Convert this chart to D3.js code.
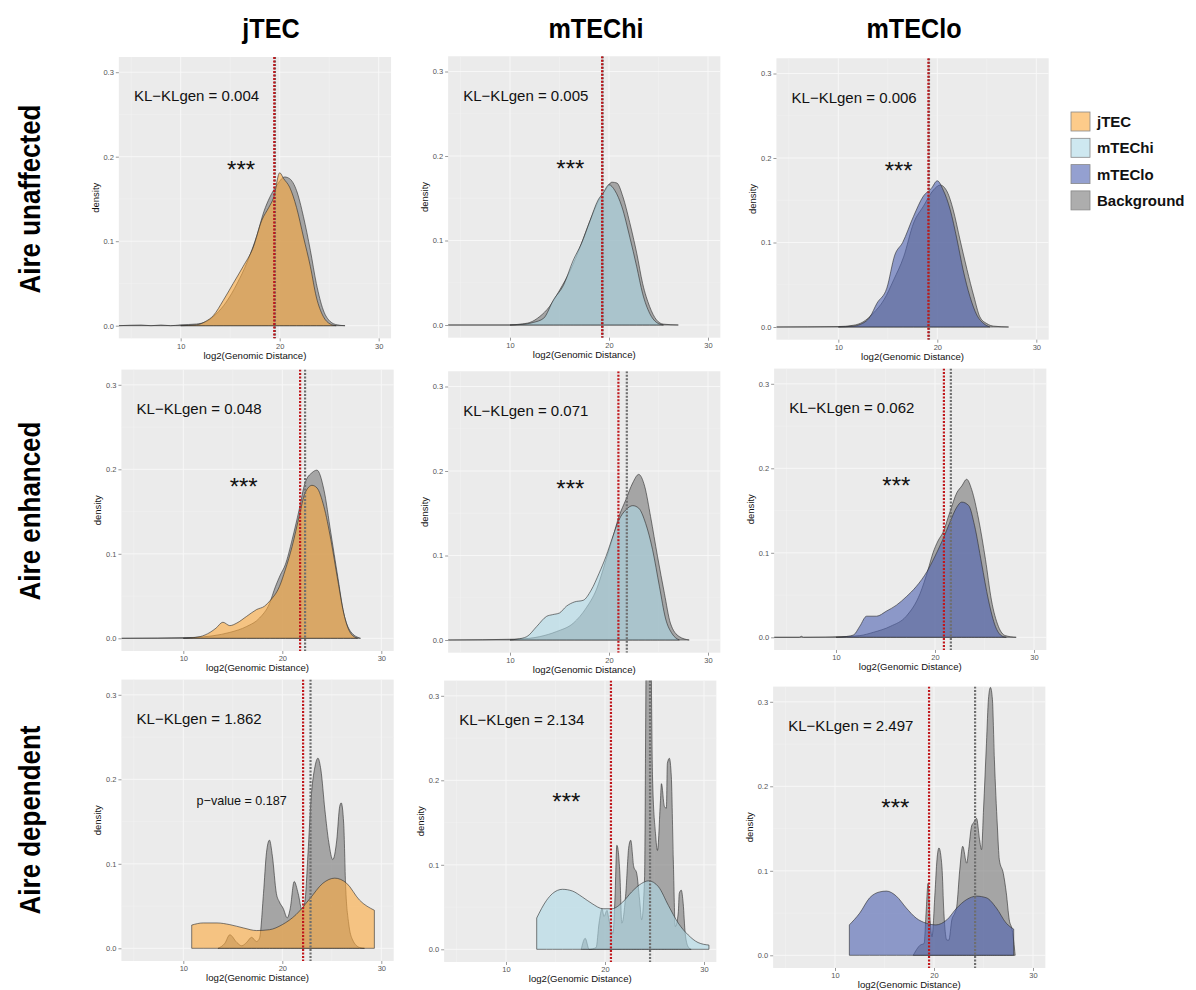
<!DOCTYPE html>
<html>
<head>
<meta charset="utf-8">
<script src="https://cdn.jsdelivr.net/npm/d3@7"></script>
<style>
  body { margin: 0; background: #fff; }
  svg { display: block; font-family: "Liberation Sans", Arial, Helvetica, sans-serif; }
</style>
</head>
<body>
<svg id="chart" width="1196" height="990"></svg>
<script>
// ---- labels and ticks ----
const cellTypes = ["jTEC", "mTEChi", "mTEClo"];
const geneClasses = ["Aire unaffected", "Aire enhanced", "Aire dependent"];
const legendLabels = ["jTEC", "mTEChi", "mTEClo", "Background"];
const xTickValues = [10, 20, 30];
const yTickValues = [0, 0.1, 0.2, 0.3];
const yTickLabels = ["0.0", "0.1", "0.2", "0.3"];
const xAxisTitle = "log2(Genomic Distance)";
const yAxisTitle = "density";

// KL divergence difference per [gene class][cell type]
const klValues = [
  ["0.004", "0.005", "0.006"],
  ["0.048", "0.071", "0.062"],
  ["1.862", "2.134", "2.497"]
];
// significance annotation per panel
const significance = [
  ["***", "***", "***"],
  ["***", "***", "***"],
  ["p\u2212value = 0.187", "***", "***"]
];
// medians (log2 distance): cell-type set and background set
const groupMedians = [
  [19.45, 19.3, 19.1],
  [21.8, 20.95, 20.9],
  [22.1, 20.6, 19.5]
];
const backgroundMedians = [
  [19.52, 19.36, 19.16],
  [22.3, 21.8, 21.6],
  [22.85, 24.55, 24.15]
];

// ---- density estimates, [log2 distance, density] ----
const unaffectedJtec = [[10,0],[11.6,0.001],[12.5,0.005],[13.3,0.012],[14.3,0.03],[15.3,0.05],[16.3,0.07],[17.3,0.092],[18.2,0.125],[18.9,0.14],[19.4,0.152],[20.0,0.181],[20.4,0.174],[21.0,0.164],[21.7,0.14],[22.4,0.105],[23.1,0.07],[23.7,0.034],[24.4,0.011],[25.1,0.002],[25.7,0]];
const unaffectedBgJtec = [[3.75,0],[6,0.0008],[7,0],[8,0.0008],[9,0],[10,0.001],[11.6,0.002],[12.6,0.005],[13.6,0.014],[14.6,0.028],[15.7,0.05],[16.7,0.075],[17.7,0.107],[18.4,0.135],[19.0,0.152],[19.7,0.166],[20.5,0.176],[21.0,0.174],[21.7,0.16],[22.4,0.129],[23.1,0.089],[23.7,0.05],[24.4,0.0185],[25.1,0.005],[25.8,0.001],[26.6,0]];

const unaffectedMtechi = [[10,0],[11.5,0.001],[12.35,0.003],[13.4,0.008],[14.4,0.03],[15.4,0.047],[16.4,0.077],[17.2,0.096],[18.1,0.124],[18.9,0.148],[19.4,0.156],[20.0,0.166],[20.6,0.159],[21.3,0.14],[22.1,0.104],[22.8,0.069],[23.4,0.037],[24.1,0.014],[24.8,0.003],[25.5,0]];
const unaffectedBgMtechi = [[3.75,0],[10,0],[11.0,0.001],[12.0,0.003],[13.0,0.01],[14.0,0.022],[15.0,0.041],[16.1,0.065],[17.1,0.093],[18.1,0.124],[18.9,0.146],[19.6,0.159],[20.3,0.169],[20.8,0.168],[21.4,0.152],[22.1,0.121],[22.8,0.085],[23.4,0.049],[24.1,0.022],[24.8,0.006],[25.5,0.001],[27.0,0]];

const unaffectedMteclo = [[10,0],[11.5,0.001],[12.2,0.003],[13.2,0.012],[13.9,0.028],[14.9,0.046],[15.7,0.085],[16.5,0.1],[17.6,0.131],[18.6,0.155],[19.4,0.164],[20.0,0.173],[20.6,0.162],[21.3,0.139],[22.0,0.103],[22.6,0.068],[23.3,0.036],[24.0,0.014],[24.7,0.004],[25.3,0]];
const unaffectedBgMteclo = [[3.75,0],[10,0.0005],[11.5,0.002],[12.5,0.006],[13.5,0.016],[14.6,0.032],[15.6,0.056],[16.6,0.083],[17.6,0.123],[18.6,0.143],[19.6,0.162],[20.3,0.168],[21.0,0.16],[21.6,0.139],[22.3,0.103],[23.0,0.068],[23.7,0.036],[24.3,0.012],[25.0,0.004],[25.7,0.001],[27.2,0]];

const enhancedJtec = [[10,0],[10.7,0.0005],[11.7,0.002],[12.7,0.007],[13.3,0.012],[14.0,0.019],[14.7,0.015],[15.4,0.018],[16.4,0.026],[17.4,0.034],[18.2,0.038],[18.8,0.045],[19.7,0.061],[20.3,0.081],[21.0,0.109],[21.7,0.144],[22.3,0.172],[23.0,0.181],[23.5,0.178],[24.2,0.156],[24.9,0.117],[25.6,0.069],[26.2,0.03],[26.9,0.006],[27.6,0]];
const enhancedBgJtec = [[3.75,0],[11.0,0.001],[13.0,0.003],[14.7,0.007],[16.4,0.014],[17.7,0.024],[18.7,0.041],[19.3,0.061],[19.8,0.075],[20.3,0.087],[21.0,0.117],[21.7,0.152],[22.3,0.184],[23.0,0.196],[23.5,0.199],[24.2,0.176],[24.9,0.125],[25.6,0.073],[26.2,0.03],[26.9,0.008],[27.9,0]];

const enhancedMtechi = [[10,0],[10.7,0.001],[11.7,0.004],[12.7,0.016],[13.7,0.028],[14.3,0.03],[15.0,0.032],[15.7,0.04],[16.5,0.045],[17.4,0.047],[18.2,0.059],[19.0,0.079],[19.7,0.099],[20.4,0.123],[21.0,0.142],[21.7,0.154],[22.4,0.159],[23.0,0.156],[23.7,0.138],[24.4,0.107],[25.1,0.063],[25.7,0.026],[26.4,0.007],[27.1,0]];
const enhancedBgMtechi = [[3.75,0],[10.7,0.001],[13.0,0.004],[14.7,0.01],[16.4,0.02],[17.7,0.038],[18.7,0.059],[19.7,0.095],[20.4,0.122],[21.0,0.146],[21.7,0.166],[22.4,0.186],[23.0,0.196],[23.6,0.182],[24.2,0.146],[24.9,0.099],[25.6,0.055],[26.2,0.02],[27.1,0.004],[28.1,0]];

const enhancedMteclo = [[10,0],[11.1,0.001],[11.8,0.003],[12.4,0.013],[13.1,0.025],[14.1,0.025],[15.1,0.031],[16.1,0.038],[17.1,0.048],[18.1,0.06],[19.2,0.078],[20.0,0.096],[20.8,0.116],[21.5,0.136],[22.2,0.154],[22.7,0.16],[23.4,0.156],[24.0,0.132],[24.7,0.088],[25.4,0.044],[26.1,0.013],[26.7,0.002],[27.2,0]];
const enhancedBgMteclo = [[3.75,0],[6.3,0],[6.5,0.0012],[6.7,0],[11.1,0.001],[12.4,0.002],[13.8,0.006],[15.5,0.013],[17.1,0.025],[18.5,0.052],[19.3,0.08],[19.8,0.1],[20.3,0.114],[20.8,0.124],[21.5,0.148],[22.2,0.171],[22.7,0.179],[23.2,0.187],[23.7,0.175],[24.4,0.14],[25.1,0.092],[25.7,0.044],[26.4,0.013],[27.1,0.002],[28.2,0]];

const dependentJtec = [[10.85,0.0275],[12.0,0.03],[13.4,0.03],[14.7,0.028],[16.1,0.024],[17.4,0.021],[18.7,0.022],[20.0,0.028],[21.4,0.04],[22.8,0.059],[24.1,0.077],[25.3,0.083],[26.5,0.077],[27.8,0.057],[29.3,0.045]];
const dependentBgJtec = [[13.5,0],[14.2,0.006],[14.7,0.016],[15.4,0.007],[15.9,0.003],[16.4,0.007],[16.9,0.013],[17.4,0.008],[17.7,0.012],[18.1,0.065],[18.4,0.113],[18.7,0.128],[19.0,0.109],[19.4,0.065],[19.7,0.055],[20.1,0.047],[20.5,0.036],[20.8,0.047],[21.2,0.079],[21.6,0.065],[22.0,0.045],[22.3,0.057],[22.6,0.113],[22.9,0.176],[23.3,0.215],[23.6,0.225],[23.9,0.211],[24.3,0.164],[24.7,0.125],[25.1,0.105],[25.5,0.128],[25.8,0.168],[25.95,0.172],[26.2,0.148],[26.4,0.073],[26.7,0.03],[27.1,0.01],[27.8,0.001],[28.3,0]];

const dependentMtechi = [[13.1,0.037],[14.1,0.058],[14.7,0.066],[15.7,0.071],[16.7,0.069],[17.7,0.062],[18.7,0.054],[19.8,0.048],[20.7,0.048],[21.8,0.056],[22.7,0.068],[23.7,0.078],[24.4,0.081],[25.4,0.074],[26.4,0.052],[27.4,0.031],[28.4,0.017],[29.4,0.008],[30.5,0.005]];
const dependentBgMtechi = [[17.6,0],[18.0,0.013],[18.4,0],[19.1,0.002],[19.4,0.031],[19.7,0.048],[19.9,0.039],[20.2,0.046],[20.4,0.035],[20.8,0.019],[21.0,0.058],[21.2,0.123],[21.5,0.09],[21.7,0.031],[22.1,0.066],[22.4,0.121],[22.6,0.129],[22.9,0.098],[23.2,0.09],[23.5,0.058],[23.7,0.035],[24.0,0.086],[24.1,0.25],[24.2,0.45],[24.4,0.6],[24.6,0.45],[24.7,0.3],[24.8,0.204],[25.1,0.137],[25.3,0.117],[25.6,0.176],[25.7,0.196],[26.0,0.169],[26.2,0.167],[26.3,0.22],[26.5,0.226],[26.7,0.204],[26.9,0.106],[27.1,0.027],[27.4,0.043],[27.5,0.066],[27.7,0.07],[27.9,0.054],[28.1,0.019],[28.4,0.003],[28.7,0]];

const dependentMteclo = [[11.45,0.036],[12.5,0.05],[13.5,0.068],[14.5,0.075],[15.2,0.076],[16.2,0.07],[17.2,0.056],[18.2,0.044],[19.2,0.038],[20.2,0.036],[21.3,0.042],[22.3,0.056],[23.3,0.066],[24.3,0.07],[25.3,0.068],[26.3,0.056],[27.3,0.038],[28.05,0.031]];
const dependentBgMteclo = [[17.9,0],[18.6,0.012],[19.0,0.014],[19.2,0.05],[19.4,0.085],[19.6,0.042],[19.8,0.022],[20.1,0.074],[20.3,0.113],[20.5,0.127],[20.8,0.105],[21.0,0.05],[21.3,0.018],[21.5,0.018],[21.8,0.042],[22.1,0.05],[22.3,0.058],[22.6,0.101],[22.9,0.129],[23.3,0.109],[23.5,0.125],[23.8,0.153],[24.0,0.157],[24.3,0.162],[24.6,0.137],[24.8,0.125],[25.0,0.172],[25.3,0.251],[25.5,0.303],[25.7,0.317],[25.9,0.303],[26.1,0.232],[26.4,0.153],[26.6,0.113],[27.0,0.097],[27.3,0.074],[27.6,0.042],[27.9,0.03],[28.2,0]];

const groupCurves = [
  [unaffectedJtec, unaffectedMtechi, unaffectedMteclo],
  [enhancedJtec, enhancedMtechi, enhancedMteclo],
  [dependentJtec, dependentMtechi, dependentMteclo]
];
const backgroundCurves = [
  [unaffectedBgJtec, unaffectedBgMtechi, unaffectedBgMteclo],
  [enhancedBgJtec, enhancedBgMtechi, enhancedBgMteclo],
  [dependentBgJtec, dependentBgMtechi, dependentBgMteclo]
];

// ---- styling ----
const fillColors = ["#fca93c", "#add8e6", "#4d61b1", "#777777"];
const fillAlpha = 0.6;
const panelBg = "#ebebeb";

// ---- layout: pixel position of (x = 10, density = 0) in each panel ----
const panelAnchors = [
  [[180.7, 325.7], [510, 325], [838.3, 327]],
  [[183.3, 638.3], [510, 640], [836, 637.3]],
  [[183.3, 948.3], [506, 949.3], [835, 955.3]]
];
const pxPerX = 9.9, pxPerY = 845;
const xDomain = [3.75, 31.25], yDomain = [-0.015, 0.318];

const svg = d3.select("#chart");
const defs = svg.append("defs");

geneClasses.forEach((gc, r) => {
  cellTypes.forEach((ct, c) => {
    const [ax, ay] = panelAnchors[r][c];
    const left = ax - (10 - xDomain[0]) * pxPerX;
    const right = ax + (xDomain[1] - 10) * pxPerX;
    const top = ay - yDomain[1] * pxPerY;
    const bottom = ay - yDomain[0] * pxPerY;
    const x = d3.scaleLinear().domain(xDomain).range([left, right]);
    const y = d3.scaleLinear().domain(yDomain).range([bottom, top]);

    const clipId = `clip-${r}-${c}`;
    defs.append("clipPath").attr("id", clipId)
      .append("rect").attr("x", left).attr("y", top)
      .attr("width", right - left).attr("height", bottom - top);

    const g = svg.append("g");
    g.append("rect").attr("x", left).attr("y", top)
      .attr("width", right - left).attr("height", bottom - top)
      .attr("fill", panelBg);

    // grid
    const minorX = [5, 15, 25], minorY = [0.05, 0.15, 0.25];
    g.selectAll(".mgx").data(minorX).join("line")
      .attr("x1", d => x(d)).attr("x2", d => x(d)).attr("y1", top).attr("y2", bottom)
      .attr("stroke", "#f3f3f3").attr("stroke-width", 0.5);
    g.selectAll(".mgy").data(minorY).join("line")
      .attr("x1", left).attr("x2", right).attr("y1", d => y(d)).attr("y2", d => y(d))
      .attr("stroke", "#f3f3f3").attr("stroke-width", 0.5);
    g.selectAll(".gx").data(xTickValues).join("line")
      .attr("x1", d => x(d)).attr("x2", d => x(d)).attr("y1", top).attr("y2", bottom)
      .attr("stroke", "#f8f8f8").attr("stroke-width", 0.9);
    g.selectAll(".gy").data(yTickValues).join("line")
      .attr("x1", left).attr("x2", right).attr("y1", d => y(d)).attr("y2", d => y(d))
      .attr("stroke", "#f8f8f8").attr("stroke-width", 0.9);

    const area = d3.area()
      .x(d => x(d[0])).y0(y(0)).y1(d => y(d[1]))
      .curve(d3.curveMonotoneX);

    const plot = g.append("g").attr("clip-path", `url(#${clipId})`);
    plot.append("path").datum(backgroundCurves[r][c])
      .attr("d", area)
      .attr("fill", fillColors[3]).attr("fill-opacity", fillAlpha)
      .attr("stroke", "#2b2b2b").attr("stroke-opacity", 0.8).attr("stroke-width", 0.75);
    plot.append("path").datum(groupCurves[r][c])
      .attr("d", area)
      .attr("fill", fillColors[c]).attr("fill-opacity", fillAlpha)
      .attr("stroke", "#2b2b2b").attr("stroke-opacity", 0.8).attr("stroke-width", 0.75);

    // median lines
    plot.append("line")
      .attr("x1", x(backgroundMedians[r][c])).attr("x2", x(backgroundMedians[r][c]))
      .attr("y1", top).attr("y2", bottom)
      .attr("stroke", "#6e6e6e").attr("stroke-width", 2.2).attr("stroke-dasharray", "2,1.5");
    plot.append("line")
      .attr("x1", x(groupMedians[r][c])).attr("x2", x(groupMedians[r][c]))
      .attr("y1", top).attr("y2", bottom)
      .attr("stroke", "#c0161b").attr("stroke-width", 2.2).attr("stroke-dasharray", "2,1.5");

    // axes
    const xAxis = d3.axisBottom(x).tickValues(xTickValues).tickSize(3).tickPadding(2)
      .tickFormat(d3.format("d"));
    const gx = g.append("g").attr("transform", `translate(0,${bottom})`).call(xAxis);
    const yAxis = d3.axisLeft(y).tickValues(yTickValues).tickSize(3).tickPadding(2)
      .tickFormat((d, i) => yTickLabels[i]);
    const gy = g.append("g").attr("transform", `translate(${left},0)`).call(yAxis);
    [gx, gy].forEach(a => {
      a.select(".domain").remove();
      a.selectAll(".tick line").attr("stroke", "#555").attr("stroke-width", 0.6);
      a.selectAll(".tick text").attr("fill", "#555").attr("font-size", 7.5)
        .attr("font-family", "Liberation Sans, Arial, sans-serif");
    });

    g.append("text")
      .attr("x", (left + right) / 2).attr("y", ay + 33)
      .attr("text-anchor", "middle").attr("font-size", 9.6).attr("fill", "#111")
      .text(xAxisTitle);
    g.append("text")
      .attr("transform", `translate(${left - 20},${(top + bottom) / 2}) rotate(-90)`)
      .attr("text-anchor", "middle").attr("font-size", 9.5).attr("fill", "#111")
      .text(yAxisTitle);

    // annotations
    g.append("text")
      .attr("x", x(11.6)).attr("y", y(0.272) + 5.5)
      .attr("text-anchor", "middle").attr("font-size", 15).attr("fill", "#111")
      .text(`KL\u2212KLgen = ${klValues[r][c]}`);
    const sig = significance[r][c];
    if (sig === "***") {
      const sy = [0.19, 0.185, 0.18][r];
      g.append("text")
        .attr("x", x(16.1)).attr("y", y(sy) + 13)
        .attr("text-anchor", "middle").attr("font-size", 24).attr("fill", "#111")
        .text(sig);
    } else {
      g.append("text")
        .attr("x", x(15.9)).attr("y", y(0.175) + 4.5)
        .attr("text-anchor", "middle").attr("font-size", 12.6).attr("fill", "#111")
        .text(sig);
    }
  });
});

// column titles (slightly condensed bold)
const colCenters = [271, 596, 914];
cellTypes.forEach((ct, i) => {
  svg.append("text")
    .attr("transform", `translate(${colCenters[i]},38) scale(0.9,1)`)
    .attr("text-anchor", "middle").attr("font-size", 28).attr("font-weight", "bold")
    .attr("fill", "#000").text(ct);
});
// row titles
const rowCenters = [199, 511, 820];
geneClasses.forEach((gc, i) => {
  svg.append("text")
    .attr("transform", `translate(40,${rowCenters[i]}) rotate(-90) scale(0.88,1)`)
    .attr("text-anchor", "middle").attr("font-size", 29.5).attr("font-weight", "bold")
    .attr("fill", "#000").text(gc);
});

// legend
const legend = svg.append("g").attr("transform", "translate(1071,112)");
legendLabels.forEach((lab, i) => {
  const row = legend.append("g").attr("transform", `translate(0,${i * 26.3})`);
  row.append("rect").attr("width", 19).attr("height", 19)
    .attr("fill", "#fff");
  row.append("rect").attr("width", 19).attr("height", 19)
    .attr("fill", fillColors[i]).attr("fill-opacity", fillAlpha)
    .attr("stroke", "#888").attr("stroke-width", 0.8);
  row.append("text").attr("x", 26).attr("y", 15)
    .attr("font-size", 15).attr("font-weight", "bold").attr("fill", "#111")
    .text(lab);
});
</script>
</body>
</html>
